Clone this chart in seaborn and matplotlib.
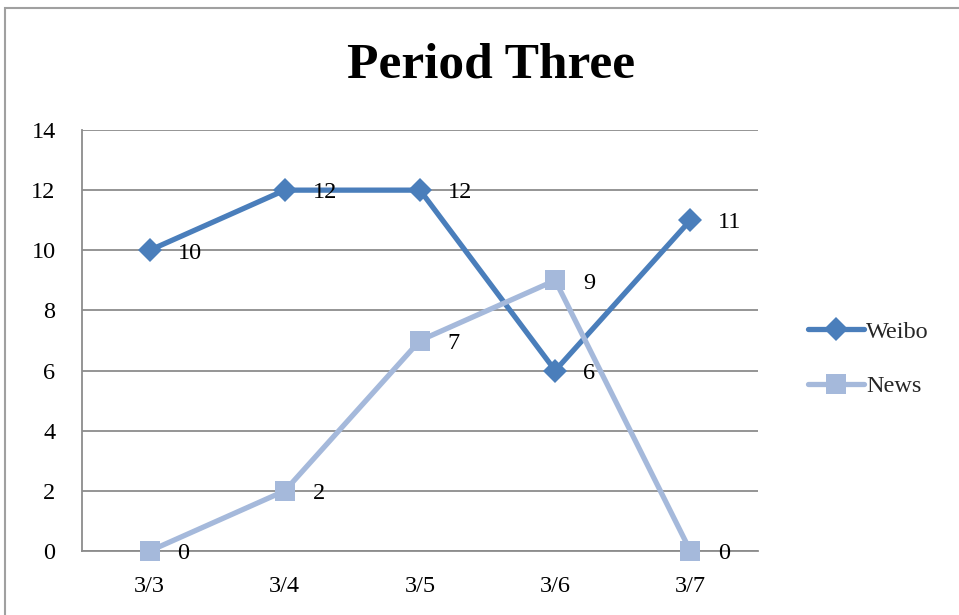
import matplotlib
matplotlib.use("Agg")
import matplotlib.pyplot as plt
import seaborn as sns
import pandas as pd
from matplotlib.patches import Rectangle
from matplotlib.lines import Line2D

dates = ["3/3", "3/4", "3/5", "3/6", "3/7"]
weibo = [10, 12, 12, 6, 11]
news = [0, 2, 7, 9, 0]
title = "Period Three"

sns.set_theme(style="white")
plt.rcParams['font.family'] = ['Liberation Serif', 'DejaVu Serif']

df = pd.DataFrame({
    "x": list(range(len(dates))) * 2,
    "value": weibo + news,
    "series": ["Weibo"] * len(dates) + ["News"] * len(dates),
})

fig = plt.figure(figsize=(9.59, 6.15), dpi=100)
ax = fig.add_axes([82/959, 1 - 551/615, (758-82)/959, (551-130)/615])

colors = {"Weibo": "#4A7EBB", "News": "#A5B9DB"}
markers = {"Weibo": "D", "News": "s"}
msize = {"Weibo": 12, "News": 15}
sns.lineplot(data=df, x="x", y="value", hue="series", style="series",
             palette=colors, markers=markers, dashes=False, linewidth=3.8,
             markersize=14, markeredgewidth=0, ax=ax, legend=False, zorder=3)
for line in ax.lines:
    line.set_clip_on(False)
    if line.get_marker() == "D":
        line.set_markersize(msize["Weibo"])
    elif line.get_marker() == "s":
        line.set_markersize(msize["News"])

for s, vals in (("Weibo", weibo), ("News", news)):
    for i, v in enumerate(vals):
        ax.annotate(str(v), (i, v), xytext=(20, -2), textcoords="offset points",
                    ha="left", va="center", fontsize=17.5, color="black", zorder=4)

ax.set_xlim(-0.5, len(dates) - 0.5)
ax.set_ylim(0, 14)
ax.set_yticks(range(0, 15, 2))
ax.set_xticks(range(len(dates)))
ax.set_xticklabels(dates)
ax.tick_params(axis="both", labelsize=17.5, length=0, colors="black")
ax.tick_params(axis="x", pad=18)
ax.tick_params(axis="y", pad=19)
ax.grid(axis="y", color="#8c8c8c", linewidth=1.3)
ax.set_axisbelow(True)
for sp in ["right", "top"]:
    ax.spines[sp].set_visible(False)
for sp in ["left", "bottom"]:
    ax.spines[sp].set_color("#8c8c8c")
    ax.spines[sp].set_linewidth(1.3)
ax.set_xlabel("")
ax.set_ylabel("")

fig.text(491/959, 1 - 66/615, title, ha="center", va="center",
         fontsize=37, fontweight="bold", color="black")

handles = [Line2D([], [], color=colors[s], marker=markers[s], linewidth=3.8,
                  markersize=msize[s], markeredgewidth=0)
           for s in ("Weibo", "News")]
fig.legend(handles, ["Weibo", "News"], loc="center left",
           bbox_to_anchor=(786/959, 1 - 359/615), frameon=False,
           fontsize=17.5, handlelength=2.3, handletextpad=0.1, labelspacing=1.35)

fig.add_artist(Rectangle((5/959, -0.1), 1.2, 1 - 8/615 + 0.1, transform=fig.transFigure,
                         fill=False, edgecolor="#a0a0a0", linewidth=1.5))

fig.savefig("out.png", dpi=100, facecolor="white")
